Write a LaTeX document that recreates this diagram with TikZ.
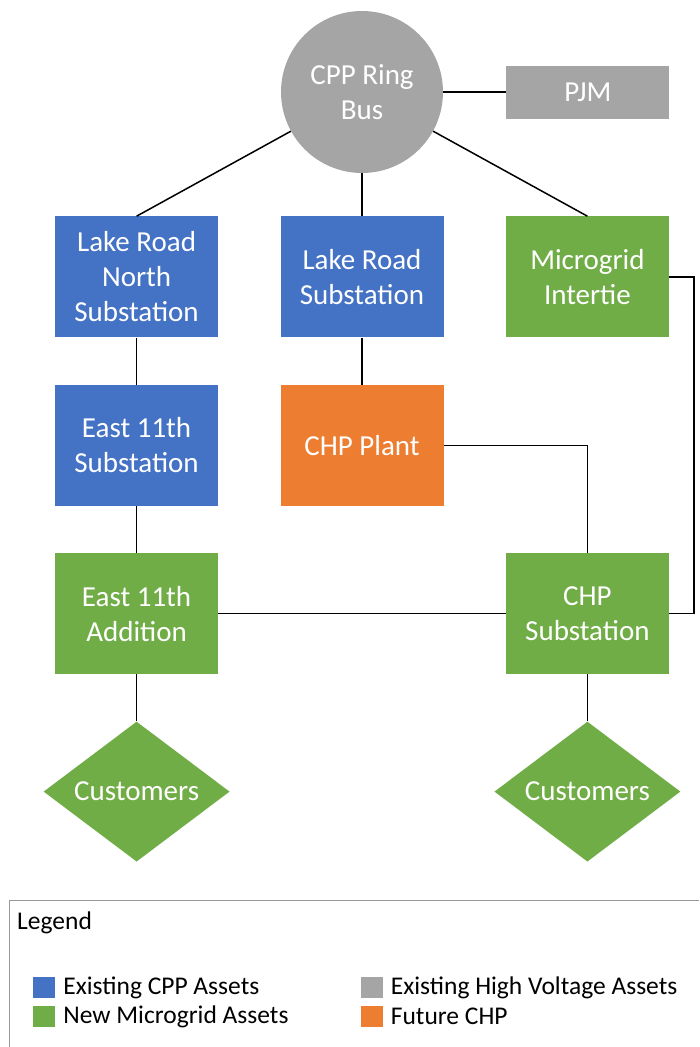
\documentclass[tikz,border=0pt]{standalone}
\usepackage{fontspec}
\setmainfont{Carlito}
\usetikzlibrary{positioning,shapes.geometric}

\definecolor{cppblue}{HTML}{4472C4}
\definecolor{newgreen}{HTML}{70AD47}
\definecolor{chporange}{HTML}{ED7D31}
\definecolor{hvgray}{HTML}{A5A5A5}

\begin{document}
\begin{tikzpicture}[x=1pt,y=1pt,
  asset/.style={rectangle,fill=#1,text=white,align=center,minimum width=163pt,minimum height=121pt,inner sep=0pt,font=\fontsize{29}{35}\selectfont},
  load/.style={diamond,fill=newgreen,text=white,minimum width=186pt,minimum height=140pt,aspect=1.33,inner sep=0pt,font=\fontsize{29}{35}\selectfont},
  link/.style={line width=1.5pt},
  key/.style={fill=#1,minimum width=22pt,minimum height=21pt,inner sep=0pt},
  keytext/.style={right=8pt of #1,inner sep=0pt,font=\fontsize{25.5}{30}\selectfont}]
\useasboundingbox (0,0) rectangle (699,-1047);

% ring bus and grid tie
\node[circle,fill=hvgray,text=white,minimum size=162pt,inner sep=0pt,align=center,font=\fontsize{29}{35}\selectfont] (ring) at (362,-92) {CPP Ring\\Bus};
\node[asset=hvgray,minimum height=53pt,right=63pt of ring] (pjm) {PJM};

% substations
\node[asset=cppblue,below=43pt of ring] (lr) {Lake Road\\Substation};
\node[asset=cppblue,left=62pt of lr] (lrn) {Lake Road\\North\\Substation};
\node[asset=newgreen,right=62pt of lr] (mi) {Microgrid\\Intertie};
\node[asset=cppblue,below=47pt of lrn] (e11s) {East 11th\\Substation};
\node[asset=chporange,below=47pt of lr] (chp) {CHP Plant};
\node[asset=newgreen,below=47pt of e11s] (e11a) {East 11th\\Addition};
\node[asset=newgreen] (chps) at (e11a -| mi) {CHP\\Substation};
\node[load,below=47pt of e11a] (cust1) {Customers};
\node[load,below=47pt of chps] (cust2) {Customers};

\draw[link] (ring) -- (pjm);
\draw[link] (ring) -- (lrn.north);
\draw[link] (ring) -- (lr);
\draw[link] (ring) -- (mi.north);
\draw[link] (lrn) -- (e11s);
\draw[link] (e11s) -- (e11a);
\draw[link] (lr) -- (chp);
\draw[link] (chp.east) -| (chps.north);
\draw[link] (e11a) -- (chps);
\draw[link] (mi.east) -- ++(25,0) |- (chps.east);
\draw[link] (e11a) -- (cust1);
\draw[link] (chps) -- (cust2);

% legend
\draw[gray!80,line width=1pt] (9,-1047) |- (699,-900);
\node[anchor=west,inner sep=0pt,font=\fontsize{25.5}{30}\selectfont] (legend) at (17,-923) {Legend};
\node[key=cppblue] (k1) at (44,-987.5) {};
\node[keytext=k1] (t1) {Existing CPP Assets};
\node[key=newgreen] (k2) at (44,-1016.5) {};
\node[keytext=k2] (t2) {New Microgrid Assets};
\node[key=hvgray] (k3) at (371.5,-987.5) {};
\node[keytext=k3] (t3) {Existing High Voltage Assets};
\node[key=chporange] (k4) at (371.5,-1016.5) {};
\node[keytext=k4] (t4) {Future CHP};
\end{tikzpicture}
\end{document}
